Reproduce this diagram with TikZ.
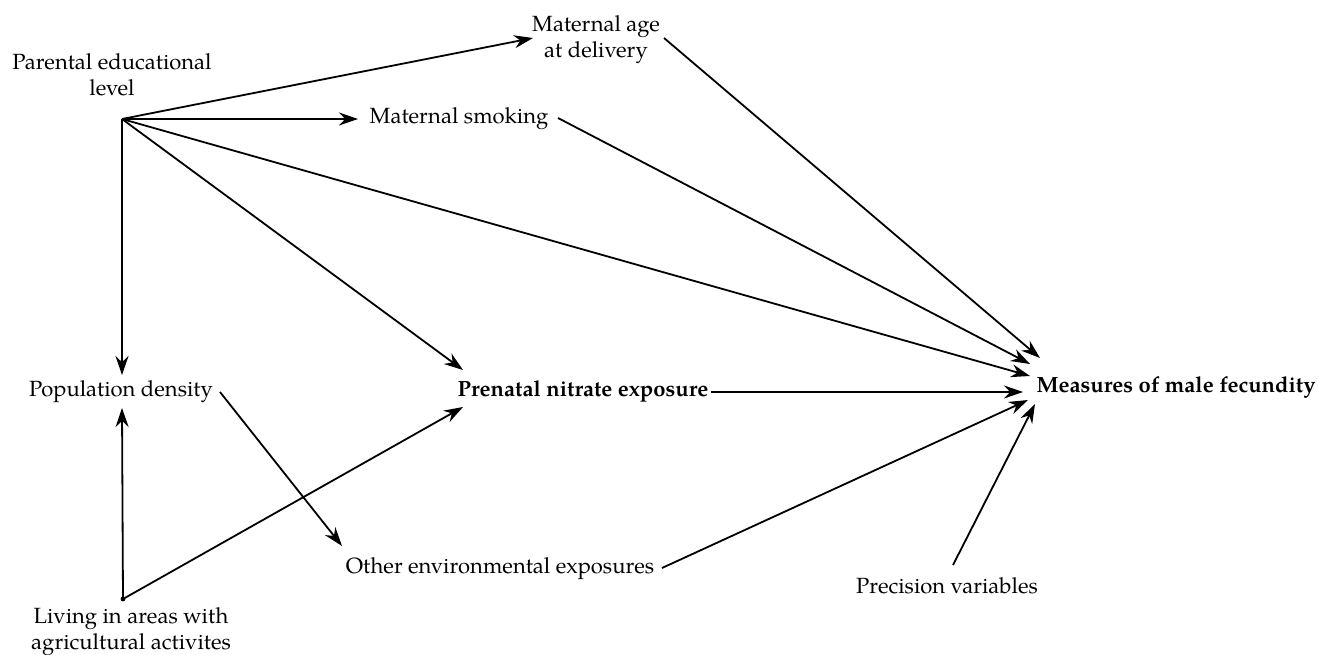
\documentclass[tikz,border=0pt]{standalone}
\usepackage{fontspec}
\setmainfont{texgyrepagella}[Extension=.otf, UprightFont=*-regular, BoldFont=*-bold, ItalicFont=*-italic, BoldItalicFont=*-bolditalic]
\usetikzlibrary{arrows.meta}
\begin{document}
\begin{tikzpicture}[x=1pt,y=-1pt,
  lbl/.style={inner sep=0pt, align=center, font=\fontsize{22}{26}\selectfont},
  blbl/.style={lbl, font=\fontsize{22}{26}\selectfont\bfseries},
  arr/.style={line width=1.8pt, -{Stealth[length=19pt,width=13pt]}}]
\useasboundingbox (0,0) rectangle (1319,655);
% nodes
\node[lbl] (pel) at (112,75) {Parental educational\\level};
\node[lbl] (ma) at (596,40) {Maternal age\\at delivery};
\node[lbl] (ms) at (459,119) {Maternal smoking};
\node[lbl] (pd) at (121,392) {Population density};
\node[blbl] (pn) at (583,391) {Prenatal nitrate exposure};
\node[blbl] (mf) at (1176,388) {Measures of male fecundity};
\node[lbl] (oe) at (500,569) {Other environmental exposures};
\node[lbl] (pv) at (947,586) {Precision variables};
\node[lbl] (lv) at (131,632) {Living in areas with\\agricultural activites};
% connector points
\coordinate (hub) at (122,119);
\coordinate (lvdot) at (123,599);
\fill (lvdot) circle (2.4pt);
\coordinate (maIn) at (533,38);
\coordinate (maOut) at (664,38);
\coordinate (msIn) at (358,119);
\coordinate (msOut) at (558,118);
\coordinate (pdTop) at (122,375);
\coordinate (pdBot) at (122,408);
\coordinate (pdOut) at (220,392);
\coordinate (pnTop) at (463,370);
\coordinate (pnBot) at (463,407);
\coordinate (pnOut) at (711,392);
\coordinate (oeIn) at (342,546);
\coordinate (oeOut) at (662,568);
\coordinate (pvOut) at (953,565);
\coordinate (mf1) at (1040,358);
\coordinate (mf2) at (1030,364);
\coordinate (mf3) at (1030,376);
\coordinate (mf4) at (1023,392);
\coordinate (mf5) at (1028,400);
\coordinate (mf6) at (1035,404);
% connectors
\draw[arr] (hub) -- (maIn);
\draw[arr] (hub) -- (msIn);
\draw[arr] (hub) -- (mf3);
\draw[arr] (hub) -- (pnTop);
\draw[arr] (hub) -- (pdTop);
\draw[arr] (maOut) -- (mf1);
\draw[arr] (msOut) -- (mf2);
\draw[arr] (pnOut) -- (mf4);
\draw[arr] (oeOut) -- (mf5);
\draw[arr] (pvOut) -- (mf6);
\draw[arr] (lvdot) -- (pdBot);
\draw[arr] (lvdot) -- (pnBot);
\draw[arr] (pdOut) -- (oeIn);
\end{tikzpicture}
\end{document}
